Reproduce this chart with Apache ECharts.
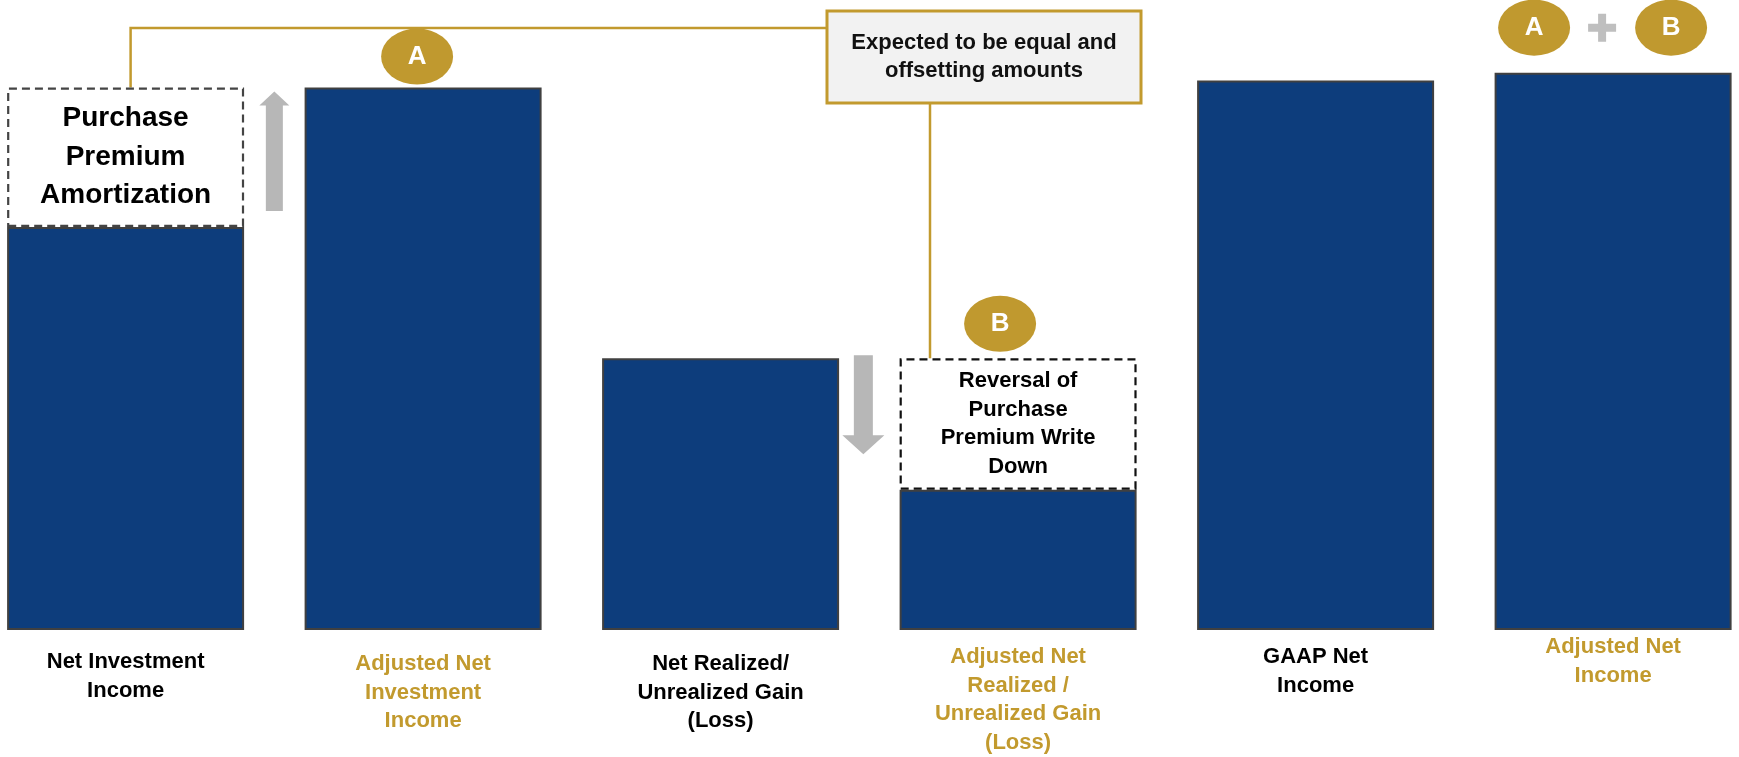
<!DOCTYPE html>
<html><head><meta charset="utf-8">
<script src="https://cdn.jsdelivr.net/npm/echarts@6/dist/echarts.min.js"></script>
<style>html,body{margin:0;padding:0;background:#fff}#chart{width:1739px;height:757px}</style>
</head><body><div id="chart"></div>
<script>
// ---- data ----
const categories = [
  'Net Investment\nIncome',
  'Adjusted Net\nInvestment\nIncome',
  'Net Realized/\nUnrealized Gain\n(Loss)',
  'Adjusted Net\nRealized /\nUnrealized Gain\n(Loss)',
  'GAAP Net\nIncome',
  'Adjusted Net\nIncome'
];
const isAdjusted = [false, true, false, true, false, true];
const baseValues = [405, 545, 273, 141, 552, 560];
const adjustmentValues = [140, null, null, 132, null, null];
const adjustmentLabels = ['Purchase\nPremium\nAmortization', '', '', 'Reversal of\nPurchase\nPremium Write\nDown', '', ''];
const calloutText = 'Expected to be equal and\noffsetting amounts';

// ---- styles ----
const FONT = '"Liberation Sans", Arial, sans-serif';
const GOLD = '#C29A2E';
const NAVY = '#0D3D7C';
const GREY = '#B7B7B7';
const labelPadTop = [16, 18, 18, 11, 11, 1];
const ellipse = 'path://M0,50A50,50,0,1,1,100,50A50,50,0,1,1,0,50Z';
const plus = 'path://M10,0H18V10H28V18H18V28H10V18H0V10H10Z';

const chart = echarts.init(document.getElementById('chart'), null, {renderer: 'canvas'});

const circleLabel = {show: true, position: 'inside', formatter: '{b}', color: '#fff', fontSize: 26, fontWeight: 'bold', fontFamily: FONT};

const option = {
  animation: false,
  backgroundColor: '#fff',
  grid: {left: 125.6, right: 125.9, top: 0, bottom: 124, containLabel: false},
  xAxis: {
    type: 'category',
    boundaryGap: false,
    data: categories.map((c, i) => ({
      value: c,
      textStyle: {color: isAdjusted[i] ? GOLD : '#000', padding: [labelPadTop[i], 0, 0, 0]}
    })),
    axisLine: {show: false}, axisTick: {show: false}, splitLine: {show: false},
    axisLabel: {interval: 0, margin: 2, fontSize: 22, fontWeight: 'bold', lineHeight: 28.5, fontFamily: FONT, align: 'center', verticalAlign: 'top'}
  },
  yAxis: {type: 'value', min: 0, max: 633, show: false, splitLine: {show: false}},
  series: [
    {
      type: 'bar', name: 'Reported', stack: 'total', clip: false,
      barWidth: 237,
      data: baseValues,
      itemStyle: {color: NAVY, borderColor: '#404040', borderWidth: 2},
      markPoint: {
        symbol: ellipse, symbolSize: [72, 56],
        itemStyle: {color: '#C0992F'},
        label: circleLabel,
        data: [
          {name: 'A', coord: [1, baseValues[1]], symbolOffset: [-6, -31]},
          {name: 'A', coord: [5, baseValues[5]], symbolOffset: [-79, -45]},
          {name: '+', coord: [5, baseValues[5]], symbol: plus, symbolSize: [28, 28], symbolOffset: [-11, -45],
           itemStyle: {color: '#BFBFBF'}, label: {show: false}},
          {name: 'B', coord: [5, baseValues[5]], symbolOffset: [58, -45]}
        ]
      }
    },
    {
      type: 'bar', name: 'Adjustment', stack: 'total', clip: false,
      barWidth: 237,
      data: adjustmentValues.map((v, i) => v == null ? '-' : {
        value: v,
        itemStyle: {color: '#fff', borderColor: i === 0 ? '#444' : '#111', borderWidth: 2.2, borderType: [8, 5]},
        label: {
          show: true, position: 'inside', formatter: adjustmentLabels[i], color: '#000', fontWeight: 'bold', fontFamily: FONT,
          fontSize: i === 0 ? 28 : 22, lineHeight: i === 0 ? 38.5 : 28.5
        }
      }),
      markPoint: {
        symbol: ellipse, symbolSize: [72, 56],
        itemStyle: {color: '#C0992F'},
        label: circleLabel,
        data: [{name: 'B', coord: [3, baseValues[3] + adjustmentValues[3]], symbolOffset: [-18, -34.5]}]
      }
    }
  ]
};
chart.setOption(option);

// ---- annotations positioned from the chart's own scale ----
const px = (i, v) => chart.convertToPixel({gridIndex: 0}, [i, v]);
const boxATop = px(0, baseValues[0] + adjustmentValues[0]);
const bar1Top = px(0, baseValues[0]);
const boxBTop = px(3, baseValues[3] + adjustmentValues[3]);
const c0 = px(0, 0)[0], c1 = px(1, 0)[0], c2 = px(2, 0)[0], c3 = px(3, 0)[0];
const upX = (c0 + c1) / 2, downX = (c2 + c3) / 2 - 6;
const upTop = boxATop[1] + 4, upBot = bar1Top[1] - 16;
const dnTop = boxBTop[1] - 3, dnTip = dnTop + 99;

chart.setOption({
  graphic: [
    {type: 'polyline', z: 1, shape: {points: [[boxATop[0] + 5, boxATop[1]], [boxATop[0] + 5, 28], [827, 28]]},
     style: {stroke: GOLD, lineWidth: 2.5, fill: null}},
    {type: 'line', z: 1, shape: {x1: 930, y1: 103, x2: 930, y2: boxBTop[1]}, style: {stroke: GOLD, lineWidth: 2.5}},
    {type: 'rect', z: 2, shape: {x: 827, y: 11, width: 314, height: 92}, style: {fill: '#F2F2F2', stroke: GOLD, lineWidth: 3}},
    {type: 'text', z: 3, style: {text: calloutText, x: 984, y: 57, align: 'center', verticalAlign: 'middle',
      font: 'bold 22px ' + FONT, lineHeight: 28.5, fill: '#111'}},
    {type: 'polygon', z: 2, shape: {points: [
      [upX, upTop], [upX + 15, upTop + 14], [upX + 8.5, upTop + 14], [upX + 8.5, upBot],
      [upX - 8.5, upBot], [upX - 8.5, upTop + 14], [upX - 15, upTop + 14]]}, style: {fill: GREY}},
    {type: 'polygon', z: 2, shape: {points: [
      [downX - 9.5, dnTop], [downX + 9.5, dnTop], [downX + 9.5, dnTip - 19], [downX + 21, dnTip - 19],
      [downX, dnTip], [downX - 21, dnTip - 19], [downX - 9.5, dnTip - 19]]}, style: {fill: GREY}}
  ]
});
</script>
</body></html>
